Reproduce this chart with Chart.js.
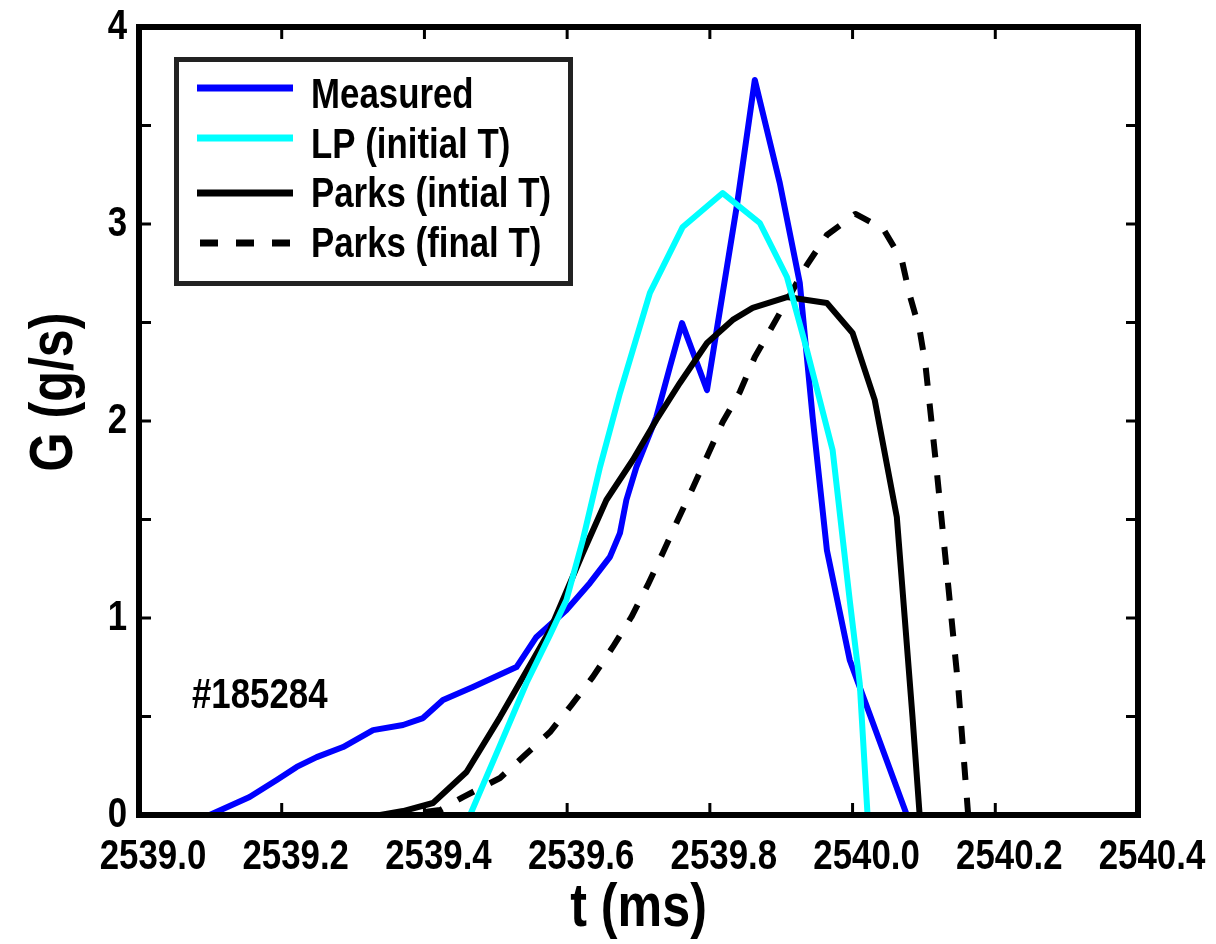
<!DOCTYPE html>
<html><head><meta charset="utf-8">
<script src="https://cdn.jsdelivr.net/npm/chart.js@4.4.1/dist/chart.umd.min.js"></script>
<style>html,body{margin:0;padding:0;background:#fff}#wrap{width:1216px;height:944px;position:relative}</style>
</head><body><div id="wrap"><canvas id="c"></canvas></div>
<script>
// ---- data ----
const xTicks = [2539.0, 2539.2, 2539.4, 2539.6, 2539.8, 2540.0, 2540.2, 2540.4];
const yTicks = [0, 1, 2, 3, 4];
const seriesNames = ['Measured', 'LP (initial T)', 'Parks (intial T)', 'Parks (final T)'];
const shotLabel = '#185284';
const xTitle = 't (ms)';
const yTitle = 'G (g/s)';

const measuredT = [2539.099,2539.155,2539.193,2539.221,2539.249,2539.286,2539.328,2539.370,2539.398,2539.426,2539.468,2539.529,2539.557,2539.599,2539.632,2539.660,2539.674,2539.683,2539.697,2539.725,2539.744,2539.761,2539.796,2539.838,2539.863,2539.898,2539.926,2539.944,2539.964,2539.996,2540.076];
const measuredG = [0,0.091,0.178,0.244,0.294,0.345,0.431,0.457,0.492,0.584,0.650,0.751,0.904,1.041,1.178,1.310,1.431,1.599,1.766,2.020,2.274,2.497,2.157,3.096,3.731,3.208,2.701,2.020,1.345,0.787,0];

const lpT = [2539.464,2539.506,2539.543,2539.576,2539.599,2539.622,2539.646,2539.674,2539.716,2539.762,2539.818,2539.870,2539.908,2539.936,2539.972,2539.996,2540.010,2540.021];
const lpG = [0,0.355,0.670,0.914,1.091,1.396,1.766,2.142,2.650,2.985,3.157,3.005,2.731,2.360,1.853,1.091,0.670,0];

const parksInitT = [2539.098,2539.338,2539.370,2539.412,2539.459,2539.506,2539.552,2539.576,2539.622,2539.655,2539.692,2539.725,2539.758,2539.796,2539.832,2539.860,2539.908,2539.964,2540.000,2540.031,2540.062,2540.073,2540.084,2540.094,2540.360];
const parksInitG = [0,0,0.020,0.061,0.218,0.497,0.787,0.939,1.330,1.599,1.802,2.005,2.193,2.396,2.513,2.574,2.629,2.599,2.447,2.107,1.513,1.005,0.497,0,0];

const parksFinalT = [2539.098,2539.366,2539.422,2539.454,2539.506,2539.538,2539.576,2539.606,2539.636,2539.664,2539.690,2539.713,2539.734,2539.755,2539.776,2539.797,2539.818,2539.842,2539.863,2539.887,2539.936,2539.964,2540.004,2540.043,2540.069,2540.080,2540.094,2540.102,2540.118,2540.133,2540.148,2540.162,2540.360];
const parksFinalG = [0,0,0.025,0.091,0.188,0.294,0.421,0.558,0.701,0.853,1.005,1.168,1.330,1.497,1.660,1.827,1.995,2.147,2.325,2.477,2.792,2.944,3.051,2.975,2.817,2.640,2.462,2.289,1.746,1.203,0.655,0,0];

// ---- fonts: narrow Helvetica look, emulated by horizontal compression ----
const FAM = '"Liberation Sans", Arial, sans-serif';
const SX = 0.81;
const labelSize = 43;
const titleSize = 62;

const pts = (T,G) => T.map((t,i)=>({x:t,y:G[i]}));

const styles = [
  {color:'#0000ff', dash:[]},
  {color:'#00ffff', dash:[]},
  {color:'#000000', dash:[]},
  {color:'#000000', dash:[18,18]}
];

const narrowText = {
  id:'narrowText',
  beforeDraw(chart){
    const ctx = chart.ctx;
    if (ctx._origFillText) return;
    const orig = ctx.fillText;
    ctx._origFillText = orig;
    ctx.fillText = function(t,x,y,mw){
      this.save(); this.scale(SX,1);
      if (mw !== undefined) orig.call(this,t,x/SX,y,mw/SX); else orig.call(this,t,x/SX,y);
      this.restore();
    };
  },
  afterDraw(chart){
    const ctx = chart.ctx;
    if (ctx._origFillText){ ctx.fillText = ctx._origFillText; delete ctx._origFillText; }
  }
};

const frameAndDecor = {
  id:'frameAndDecor',
  afterDatasetsDraw(chart){
    const {ctx, chartArea:a, scales:{x,y}} = chart;
    ctx.save();
    // inside tick marks
    ctx.strokeStyle='#000'; ctx.lineWidth=3; ctx.lineCap='butt';
    x.ticks.forEach(t=>{
      const px = x.getPixelForValue(t.value);
      ctx.beginPath(); ctx.moveTo(px,a.bottom); ctx.lineTo(px,a.bottom-12); ctx.stroke();
      ctx.beginPath(); ctx.moveTo(px,a.top); ctx.lineTo(px,a.top+12); ctx.stroke();
    });
    y.ticks.forEach(t=>{
      const py = y.getPixelForValue(t.value);
      ctx.beginPath(); ctx.moveTo(a.left,py); ctx.lineTo(a.left+12,py); ctx.stroke();
      ctx.beginPath(); ctx.moveTo(a.right,py); ctx.lineTo(a.right-12,py); ctx.stroke();
    });
    // frame
    ctx.lineWidth=6; ctx.strokeStyle='#000';
    ctx.strokeRect(a.left,a.top,a.right-a.left,a.bottom-a.top);
    // legend box
    const lx=176.5, ly=59.5, lw=394, lh=224;
    ctx.fillStyle='#fff'; ctx.fillRect(lx,ly,lw,lh);
    ctx.lineWidth=5; ctx.strokeStyle='#222'; ctx.strokeRect(lx,ly,lw,lh);
    const lineY=[88,138,193,243], baseY=[108,158,207,257];
    ctx.font='bold '+labelSize+'px '+FAM;
    ctx.textAlign='left'; ctx.textBaseline='alphabetic';
    seriesNames.forEach((n,i)=>{
      ctx.save();
      ctx.strokeStyle=styles[i].color; ctx.lineWidth=7; ctx.setLineDash(styles[i].dash);
      ctx.beginPath(); ctx.moveTo(i===3?200:197,lineY[i]); ctx.lineTo(293,lineY[i]); ctx.stroke();
      ctx.restore();
      ctx.fillStyle='#000'; ctx.fillText(n,311,baseY[i]);
    });
    // shot number
    ctx.fillText(shotLabel,192,708);
    // y title
    ctx.save();
    ctx.translate(72,392); ctx.rotate(-Math.PI/2);
    ctx.font='bold '+titleSize+'px '+FAM; ctx.textAlign='center'; ctx.textBaseline='alphabetic';
    ctx.fillText(yTitle,0,0);
    ctx.restore();
    ctx.restore();
  }
};

new Chart(document.getElementById('c'), {
  type:'line',
  data:{datasets:[
    {label:seriesNames[0], data:pts(measuredT,measuredG), borderColor:styles[0].color, borderWidth:6, order:2},
    {label:seriesNames[1], data:pts(lpT,lpG), borderColor:styles[1].color, borderWidth:6, order:0},
    {label:seriesNames[2], data:pts(parksInitT,parksInitG), borderColor:styles[2].color, borderWidth:6, order:1},
    {label:seriesNames[3], data:pts(parksFinalT,parksFinalG), borderColor:styles[3].color, borderWidth:6, borderDash:styles[3].dash, order:3}
  ]},
  options:{
    responsive:true, maintainAspectRatio:false, animation:false,
    layout:{padding:{left:0,right:78,top:27,bottom:0}},
    elements:{point:{radius:0}, line:{tension:0, borderJoinStyle:'round', fill:false}},
    plugins:{legend:{display:false}, tooltip:{enabled:false}},
    scales:{
      x:{type:'linear', min:xTicks[0], max:xTicks[xTicks.length-1],
        grid:{display:false, drawTicks:false}, border:{display:false},
        afterFit(s){s.height=129; s.paddingLeft=0; s.paddingRight=0;},
        afterBuildTicks(s){s.ticks=xTicks.map(v=>({value:v}));},
        ticks:{color:'#000', padding:21, labelOffset:14, maxRotation:0, minRotation:0, autoSkip:false,
          font:{family:FAM, size:labelSize, weight:'bold', lineHeight:1},
          callback:v=>Number(v).toFixed(1)},
        title:{display:true, text:xTitle, color:'#000', font:{family:FAM, size:titleSize, weight:'bold', lineHeight:1}, padding:{top:0,bottom:4}}
      },
      y:{type:'linear', min:0, max:4,
        grid:{display:false, drawTicks:false}, border:{display:false},
        afterFit(s){s.width=139; s.paddingTop=0; s.paddingBottom=0;},
        afterBuildTicks(s){const t=[];for(let v=0;v<=4.0001;v+=0.5)t.push({value:Math.round(v*2)/2});s.ticks=t;},
        ticks:{color:'#000', padding:12, autoSkip:false,
          font:{family:FAM, size:labelSize, weight:'bold', lineHeight:1},
          callback:v=>yTicks.includes(v)?String(v):''}
      }
    }
  },
  plugins:[narrowText, frameAndDecor]
});
</script></body></html>
